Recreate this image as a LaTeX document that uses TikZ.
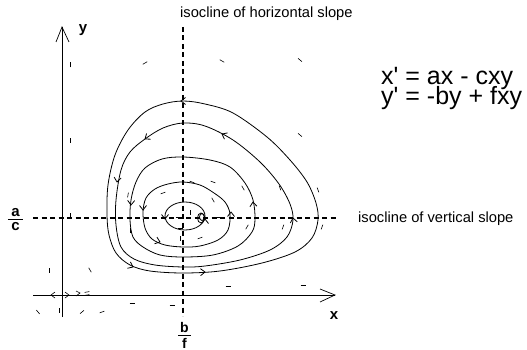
\documentclass[tikz,border=0pt]{standalone}
\usepackage{fontspec}
\setmainfont{Liberation Sans}
\newcommand\orbarrow[3]{\draw[orbit, shift={(#1,#2)}, rotate=#3] (-4.5,3.5) -- (0,0) -- (-4.5,-3.5);}
\newcommand\fieldmark[3]{\draw[fld, shift={(#1,#2)}, rotate=#3] (-2.5,0) -- (2.5,0);}
\newcommand\fracstack[3]{\vbox{\baselineskip=-1pt\lineskip=1.8pt\lineskiplimit=0pt\halign{\hfil##\hfil\cr #1\cr\rule{#3}{1.3pt}\cr #2\cr}}}
\begin{document}
\begin{tikzpicture}[x=1pt,y=-1pt,
  orbit/.style={line width=0.8pt, line join=round},
  iso/.style={line width=1.5pt, dash pattern=on 5pt off 3.5pt},
  axis/.style={line width=0.7pt},
  fld/.style={line width=0.6pt},
  lbl/.style={font=\fontsize{14.7}{16}\selectfont, inner sep=0pt},
  varlbl/.style={font=\fontsize{15}{17}\selectfont\bfseries, inner sep=0pt},
  eq/.style={font={\fontsize{25}{20.5}\selectfont\lineskiplimit=-20pt}, inner sep=0pt, align=left, anchor=base west},
]
\useasboundingbox (0,0) rectangle (527,350);

% axes
\coordinate (ybot) at (62,317);
\coordinate (ytip) at (62,27);
\coordinate (xleft) at (33,295);
\coordinate (xtip) at (335,295);
\draw[axis] (ybot) -- (ytip);
\draw[axis] (56,42) -- (ytip) -- (69,42);
\draw[axis] (xleft) -- (xtip);
\draw[axis] (320,289) -- (xtip) -- (320,302);

% isoclines
\coordinate (hl) at (33,218);
\coordinate (hr) at (336,218);
\coordinate (vt) at (183,27);
\coordinate (vb) at (183,316);
\draw[iso] (hl) -- (hr);
\draw[iso] (vt) -- (vb);

% orbits
\draw[orbit] plot[smooth cycle, tension=0.55] coordinates {
 (183,101) (205,104) (233,113) (267,137) (290,160) (307,182) (316,203) (318,220)
 (312,238) (295,252) (262,263) (220,271) (183,273) (150,271) (130,265) (116,253)
 (109,235) (107,215) (108,185) (115,155) (128,130) (145,112) (163,104)};
\draw[orbit] plot[smooth cycle, tension=0.55] coordinates {
 (183,123) (205,126) (233,140) (260,162) (279,184) (290,204) (293,220) (287,237)
 (270,250) (240,260) (205,266) (183,267) (155,265) (134,259) (121,247) (116,225)
 (116,200) (121,170) (130,152) (145,139) (163,128)};
\draw[orbit] plot[smooth cycle, tension=0.55] coordinates {
 (183,157) (210,160) (230,167) (245,183) (253,200) (255,219) (252,232) (238,246)
 (213,255) (183,257) (160,255) (143,247) (133,237) (130,220) (131,200) (136,182)
 (145,168) (162,159)};
\draw[orbit] plot[smooth cycle, tension=0.55] coordinates {
 (183,182) (200,185) (214,193) (225,202) (230,214) (228,230) (218,240) (200,246)
 (183,247) (165,245) (152,239) (145,228) (143,212) (146,198) (155,189) (168,184)};
\draw[orbit] (185,216) ellipse [x radius=20pt, y radius=14pt];
\draw[orbit] (201,218) ellipse [x radius=3.5pt, y radius=5pt];
\draw[orbit] (202,217) ellipse [x radius=2.5pt, y radius=3.5pt];

% arrows on orbits
\orbarrow{181}{101}{180}
\orbarrow{205}{272}{2}
\orbarrow{133}{267}{-25}
\orbarrow{117}{182}{-98}
\orbarrow{145}{139}{216}
\orbarrow{222}{134}{153}
\orbarrow{293}{218}{100}
\orbarrow{131}{205}{-92}
\orbarrow{253}{202}{95}
\orbarrow{143}{210}{-90}
\orbarrow{231}{212}{90}
\orbarrow{160}{242}{-20}
\orbarrow{165}{219}{-90}
\orbarrow{205}{219}{90}

% direction field marks
\fieldmark{70}{65}{90}
\fieldmark{145}{63}{30}
\fieldmark{222}{61}{-30}
\fieldmark{70}{140}{90}
\fieldmark{300}{60}{-40}
\fieldmark{300}{135}{-40}
\fieldmark{280}{188}{-70}
\fieldmark{318}{190}{-70}
\fieldmark{283}{227}{70}
\fieldmark{322}{227}{70}
\fieldmark{303}{285}{0}
\fieldmark{228}{286}{0}
\fieldmark{70}{215}{90}
\fieldmark{49}{270}{90}
\fieldmark{90}{270}{-60}
\fieldmark{38}{312}{-50}
\fieldmark{59}{310}{90}
\fieldmark{82}{312}{40}
\fieldmark{102}{312}{20}
\fieldmark{132}{303}{0}
\fieldmark{172}{305}{0}
\fieldmark{128}{195}{80}
\fieldmark{163}{193}{20}
\fieldmark{192}{182}{-20}
\fieldmark{213}{182}{-20}
\fieldmark{213}{200}{-60}
\fieldmark{190}{212}{90}
\fieldmark{178}{217}{0}
\fieldmark{217}{217}{0}
\fieldmark{180}{228}{0}
\fieldmark{200}{238}{20}
\fieldmark{180}{238}{90}
\fieldmark{247}{227}{60}
\fieldmark{130}{230}{90}
\fieldmark{243}{188}{-60}
\fieldmark{102}{295}{0}
\fieldmark{87}{292}{10}
\fieldmark{87}{295}{10}
\draw[fld] (55,292) -- (51,295) -- (55,298);
\draw[fld] (65,292) -- (69,295) -- (65,298);
\draw[fld] (76,291) -- (80,293) -- (76,296);

% labels
\node[lbl, anchor=base west] (hslope) at (180,18) {isocline of horizontal slope};
\node[lbl, anchor=base west] (vslope) at (358,222) {isocline of vertical slope};
\node[eq] (eqs) at (381,104.5) {x\textquotesingle{} = ax - cxy\\y\textquotesingle{} = -by + fxy};
\node[varlbl] (ylab) at (83,30) {y};
\node[varlbl] (xlab) at (334,316) {x};
\node[varlbl] (ac) at (15.5,219.5) {\fracstack{a}{c}{15pt}};
\node[varlbl, font=\fontsize{14}{16}\selectfont\bfseries] (bf) at (184.5,335.5) {\fracstack{b}{f}{13pt}};
\end{tikzpicture}
\end{document}
